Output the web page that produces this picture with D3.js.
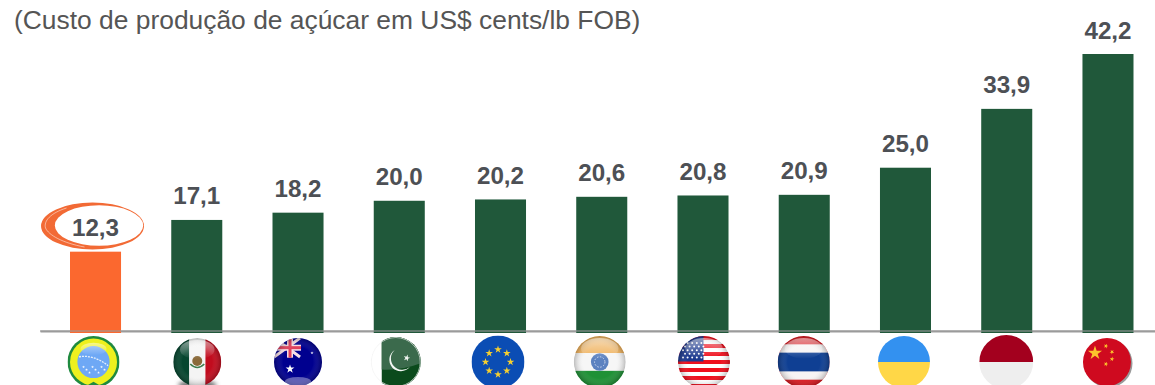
<!DOCTYPE html>
<html lang="pt">
<head>
<meta charset="utf-8">
<script src="https://cdn.jsdelivr.net/npm/d3@7/dist/d3.min.js"></script>
<style>
html,body{margin:0;padding:0;background:#fff;overflow:hidden}
svg{display:block}
text{font-family:"Liberation Sans",Arial,sans-serif}
</style>
</head>
<body>
<svg id="chart" width="1155" height="385"></svg>
<script>
// Custo de produção de açúcar por país
const countries = ["Brasil","México","Austrália","Paquistão","União Europeia","Índia","EUA","Tailândia","Ucrânia","Indonésia","China"];
const flagCodes = ["br","mx","au","pk","eu","in","us","th","ua","id","cn"];
const costs = [12.3,17.1,18.2,20.0,20.2,20.6,20.8,20.9,25.0,33.9,42.2];
const chartTitle = "(Custo de produção de açúcar em US$ cents/lb FOB)";
const highlighted = "Brasil";

const barGreen = "#20583a", barOrange = "#fb682f", labelGrey = "#4d5055";

const svg = d3.select("#chart");
const defs = svg.append("defs");

const x = d3.scaleBand().domain(countries).range([44.9,1158.6]).paddingInner(0.496).paddingOuter(0.248);
const y = d3.scaleLinear().domain([0,42.2]).range([333,54]);
const fmt = v => v.toFixed(1).replace(".",",");

svg.append("text").attr("x",14).attr("y",29).attr("font-size",26.4).attr("fill","#555").text(chartTitle);

// linha de base
const axis = d3.axisBottom(d3.scaleLinear().domain([0,1]).range([40,1155])).tickValues([]).tickSize(0);
svg.append("g").attr("transform","translate(0,331)").call(axis)
  .select(".domain").attr("stroke","#9b9b9b").attr("stroke-width",2);

// colunas
svg.selectAll("rect.bar").data(countries).join("rect").attr("class","bar")
  .attr("x",d=>x(d)).attr("width",x.bandwidth())
  .attr("y",(d,i)=>y(costs[i])).attr("height",(d,i)=>y(0)-y(costs[i]))
  .attr("fill",d=>d===highlighted?barOrange:barGreen);
svg.append("rect").attr("x",40).attr("y",330).attr("width",1115).attr("height",2).attr("fill","#9b9b9b").attr("opacity",.55);

// pincelada em volta do valor em destaque
const bx = x(highlighted)+x.bandwidth()/2;
const ell = (cx,cy,rx,ry)=>`M${cx-rx},${cy}A${rx},${ry} 0 1,0 ${cx+rx},${cy}A${rx},${ry} 0 1,0 ${cx-rx},${cy}Z`;
const swoosh = svg.append("g").attr("transform",`translate(${bx-3},226)`);
swoosh.append("path").attr("fill-rule","evenodd").attr("fill","#f26a35")
  .attr("d",ell(0,0,51.5,23.5)+ell(6.5,-0.5,44.2,20.2));
swoosh.append("path").attr("fill","none").attr("stroke","#fff").attr("stroke-width",.5)
  .attr("d","M-26,-18C-42,-13 -49,-5 -47,2C-44,9 -30,17 -8,21");
swoosh.append("path").attr("fill","none").attr("stroke","#fff").attr("stroke-width",2.4)
  .attr("d","M30,23C42,20 52,13 54,5");

// rótulos de valor
svg.selectAll("text.value").data(countries).join("text").attr("class","value")
  .attr("x",d=>x(d)+x.bandwidth()/2)
  .attr("y",(d,i)=>y(costs[i])-15.5)
  .attr("text-anchor","middle").attr("font-size",24.2).attr("font-weight",700).attr("fill",labelGrey)
  .text((d,i)=>fmt(costs[i]));

// brilho esférico dos botões
const gloss = defs.append("radialGradient").attr("id","gloss").attr("cx","50%").attr("cy","50%").attr("r","50%");
gloss.append("stop").attr("offset","62%").attr("stop-color","#fff").attr("stop-opacity",0);
gloss.append("stop").attr("offset","100%").attr("stop-color","#000").attr("stop-opacity",.24);
const sheen = defs.append("linearGradient").attr("id","sheen").attr("x1",0).attr("x2",0).attr("y1",0).attr("y2",1);
sheen.append("stop").attr("offset","0%").attr("stop-color","#fff").attr("stop-opacity",.5);
sheen.append("stop").attr("offset","100%").attr("stop-color","#fff").attr("stop-opacity",0);
const blur = defs.append("filter").attr("id","soft").attr("x","-40%").attr("y","-40%").attr("width","180%").attr("height","180%");
blur.append("feGaussianBlur").attr("stdDeviation",2);

const star = (g,cx,cy,size,fill,rot=0)=>g.append("path")
  .attr("d",d3.symbol(d3.symbolStar,size)())
  .attr("transform",`translate(${cx},${cy}) rotate(${rot})`).attr("fill",fill);
const band = (g,x0,y0,w,h,fill)=>g.append("rect").attr("x",x0).attr("y",y0).attr("width",w).attr("height",h).attr("fill",fill);
const shine = (g,r)=>{
  g.append("circle").attr("r",r).attr("fill","url(#gloss)");
  g.append("ellipse").attr("cy",-r*.52).attr("rx",r*.72).attr("ry",r*.4).attr("fill","url(#sheen)");
};

const painters = {
  br(g,r){
    band(g,-r,-r,2*r,2*r,"#1f8a3f");
    g.append("circle").attr("r",r-2.5).attr("fill","#eef01e");
    g.append("path").attr("d",`M${-r*.42},${r}L0,${r*.76}L${r*.42},${r}Z`).attr("fill","#1f8a3f");
    g.append("circle").attr("r",r*.62).attr("fill","#6ea8f5");
    g.append("path").attr("d",`M${-r*.56},${-r*.2}Q0,${-r*.3} ${r*.56},${r*.14}`).attr("fill","none").attr("stroke","#e6f0fb").attr("stroke-width",1.3).attr("stroke-dasharray","2 1");
    d3.range(8).forEach(i=>star(g,-10+i*3,5+(i%3)*2.8,2.5,"#fff"));
    g.append("ellipse").attr("cy",-r*.5).attr("rx",r*.5).attr("ry",r*.24).attr("fill","url(#sheen)");
  },
  mx(g,r){
    band(g,-r,-r,r*.68,2*r,"#06462f");
    band(g,-r*.34,-r,r*.68,2*r,"#f4f4f4");
    band(g,r*.34,-r,r*.66,2*r,"#c10c1e");
    g.append("circle").attr("cy",-1).attr("r",5).attr("fill","#8a6a3a");
    g.append("path").attr("d","M-7,2Q0,9 7,2").attr("fill","none").attr("stroke","#3f7d4e").attr("stroke-width",1.6);
    shine(g,r);
  },
  au(g,r){
    band(g,-r,-r,2*r,2*r,"#00008f");
    g.append("path").attr("d",`M${-r},${-r}L2,-5M2,${-r}L${-r},-5`).attr("stroke","#f7dfe6").attr("stroke-width",3);
    band(g,-r,-r*.72,r+3,6,"#f7dfe6"); band(g,-11,-r,6,r*.82,"#f7dfe6");
    band(g,-r,-r*.66,r+3,3,"#e0405c"); band(g,-9.5,-r,3,r*.82,"#e0405c");
    star(g,-8,7,24,"#fff");
    star(g,14,-9,3,"#fff");
    g.append("circle").attr("r",r).attr("fill","url(#gloss)");
    g.append("ellipse").attr("cy",r*.82).attr("rx",r*.55).attr("ry",r*.2).attr("fill","#fff").attr("opacity",.35);
  },
  pk(g,r){
    band(g,-r,-r,r*.44,2*r,"#ffffff");
    band(g,-r*.56,-r,r*1.56+r,2*r,"#0b4a1c");
    g.append("path").attr("d",`M${-r*.56},${-r}H${r}V${r*.05}Q${r*.2},${r*.35} ${-r*.56},${r*.3}Z`).attr("fill","#3b6a4c");
    g.append("path").attr("d","M-1,-12A11.5,11.5 0 1,0 14,5A9,9 0 1,1 -1,-12Z").attr("fill","#f4f7f4");
    star(g,11,-4,14,"#f4f7f4",15);
    g.append("circle").attr("r",r-.5).attr("fill","none").attr("stroke","#f0f0f0").attr("stroke-width",.7);
  },
  eu(g,r){
    band(g,-r,-r,2*r,2*r,"#0b4db4");
    d3.range(8).forEach(i=>{
      const a = i/8*2*Math.PI;
      star(g,Math.sin(a)*12.5,-Math.cos(a)*12.5,18,"#f6cf2f");
    });
  },
  in(g,r){
    band(g,-r,-r,2*r,r*.66,"#efb25e");
    band(g,-r,-r*.34,2*r,r*.68,"#f6f6f6");
    band(g,-r,r*.34,2*r,r*.66,"#1f9136");
    g.append("circle").attr("cy",0).attr("r",r*.34).attr("fill","#5c82c0");
    g.append("circle").attr("r",r*.2).attr("fill","none").attr("stroke","#cfd9ee").attr("stroke-width",1).attr("stroke-dasharray","1.5 1.5");
    shine(g,r);
  },
  us(g,r){
    band(g,-r,-r,2*r,2*r,"#fff");
    d3.range(7).forEach(i=>band(g,-r,-r+i*2*r/6.5,2*r,2*r/13,"#ef0f1d"));
    band(g,-r,-r,r*.98,r*.98,"#1d3a8f");
    d3.range(5).forEach(i=>d3.range(5).forEach(j=>g.append("circle").attr("cx",-r+5+i*4.6+(j%2)*2).attr("cy",-r+7+j*3.6).attr("r",1).attr("fill","#fff")));
    shine(g,r);
  },
  th(g,r){
    band(g,-r,-r,2*r,2*r,"#d91a21");
    band(g,-r,-r*.68,2*r,r*1.36,"#f7f4f4");
    band(g,-r,-r*.36,2*r,r*.72,"#0f3f93");
    shine(g,r);
  },
  ua(g,r){
    band(g,-r,-r,2*r,r,"#3391f0");
    band(g,-r,0,2*r,r,"#ffd747");
  },
  id(g,r){
    band(g,-r,-r,2*r,r,"#a3001e");
    band(g,-r,0,2*r,r,"#eeeeee");
  },
  cn(g,r){
    band(g,-r,-r,2*r,2*r,"#cf0a1f");
    star(g,-12,-9,62,"#fcc32c");
    star(g,-1,-16,7,"#fcc32c",20); star(g,5,-10,7,"#fcc32c",40);
    star(g,5,-3,7,"#fcc32c",10); star(g,-1,2,7,"#fcc32c",20);
  }
};

// centro e raio de cada botão de bandeira, relativos ao centro da coluna
const flagDx = [-2,0.5,0,-3.5,-2.5,-2,1,-0.5,-1.5,-0.5,-1];
const flagRadius = [26,24,24,25,26.5,26,26,26,26,27,24];

const flags = svg.selectAll("g.flag").data(countries).join("g").attr("class","flag")
  .attr("transform",(d,i)=>`translate(${x(d)+x.bandwidth()/2+flagDx[i]},362)`);

flags.each(function(d,i){
  const g = d3.select(this), r = flagRadius[i], code = flagCodes[i];
  if(code==="mx") g.append("ellipse").attr("cy",r-1).attr("rx",r*.8).attr("ry",5).attr("fill","#777").attr("filter","url(#soft)");
  if(code==="cn") g.append("circle").attr("cx",1.5).attr("cy",1.5).attr("r",r).attr("fill","#999");
  defs.append("clipPath").attr("id","clip-"+code).append("circle").attr("r",r);
  const inner = g.append("g").attr("clip-path",`url(#clip-${code})`);
  painters[code](inner,r);
});
</script>
</body>
</html>
